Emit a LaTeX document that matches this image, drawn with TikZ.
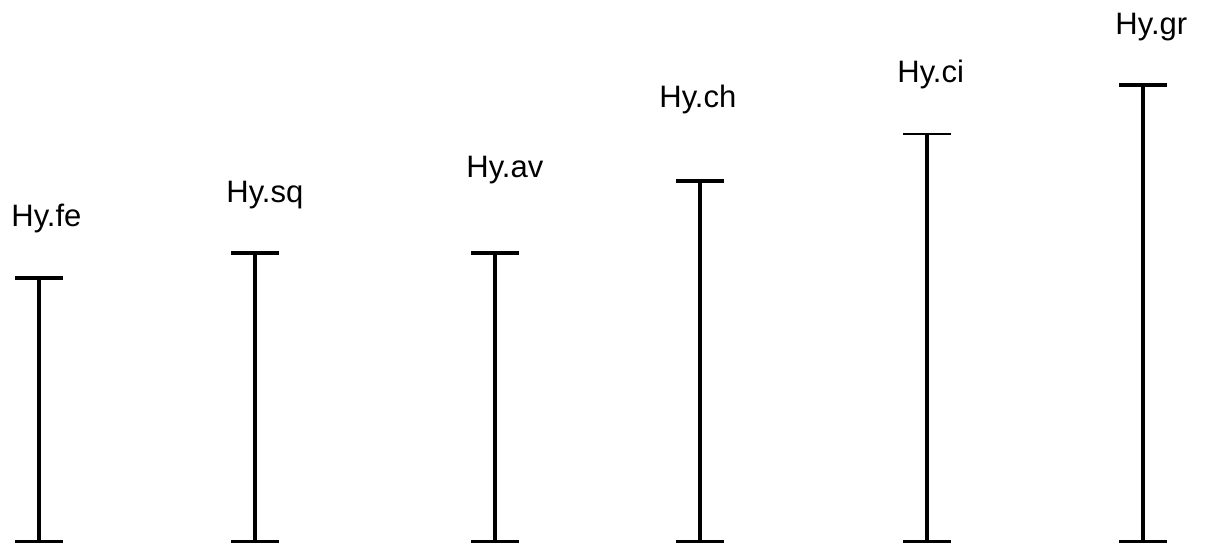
\documentclass[tikz,border=0pt]{standalone}
\usepackage{fontspec}
\setmainfont{Liberation Sans}
\begin{document}
\begin{tikzpicture}[x=0.5pt,y=-0.5pt,
  lbl/.style={anchor=base west,inner sep=0pt,font=\fontsize{15.5pt}{18pt}\selectfont},
  bar/.style={line width=1.75pt},
  thincap/.style={line width=0.8pt}]
\useasboundingbox (0,0) rectangle (1205,546);
% labels
\node[lbl] (lfe) at (11,226) {Hy.fe};
\node[lbl] (lsq) at (226,202) {Hy.sq};
\node[lbl] (lav) at (466,177) {Hy.av};
\node[lbl] (lch) at (659,107) {Hy.ch};
\node[lbl] (lci) at (897,82) {Hy.ci};
\node[lbl] (lgr) at (1115,34) {Hy.gr};
% bar end points
\foreach \n/\x/\t in {fe/39/278, sq/255/253, av/495/253, ch/700/181, ci/927/134, gr/1143/85}{
  \coordinate (\n-t) at (\x,\t);
  \coordinate (\n-b) at (\x,541.5);
  \coordinate (\n-tl) at (\x-24,\t);
  \coordinate (\n-tr) at (\x+24,\t);
  \coordinate (\n-bl) at (\x-24,541.5);
  \coordinate (\n-br) at (\x+24,541.5);
}
\foreach \n in {fe,sq,av,ch,ci,gr}{
  \draw[bar] (\n-t) -- (\n-b);
  \draw[bar] (\n-bl) -- (\n-br);
}
\foreach \n in {fe,sq,av,ch,gr}{
  \draw[bar] (\n-tl) -- (\n-tr);
}
\draw[thincap] (ci-tl) -- (ci-tr);
\end{tikzpicture}
\end{document}
